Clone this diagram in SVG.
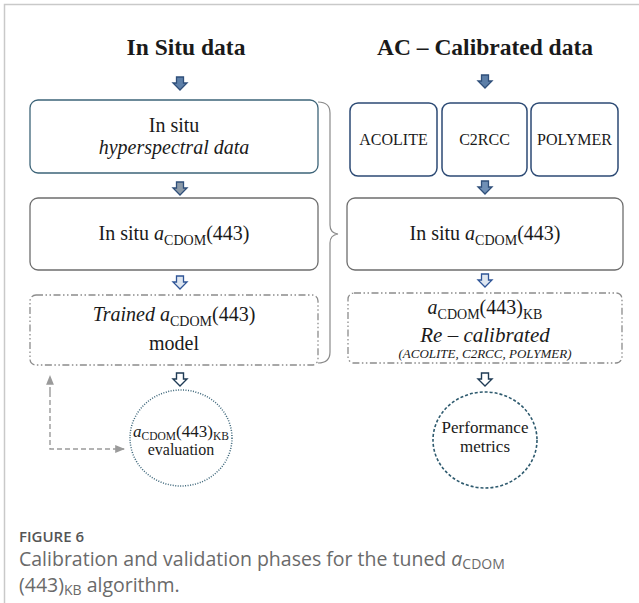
<svg xmlns="http://www.w3.org/2000/svg" width="639" height="603" viewBox="0 0 639 603">
  <style>
    .serif { font-family: "Liberation Serif", "Times New Roman", serif; fill: #1a1a1a; }
    .title { font-size: 23.5px; font-weight: bold; text-anchor: middle; }
    .lbl { font-size: 20px; text-anchor: middle; }
    .ac { font-size: 16px; text-anchor: middle; }
    .it { font-style: italic; }
    .box { fill: #ffffff; stroke-width: 1.3; }
    .solid-teal { stroke: #3d6478; }
    .solid-gray { stroke: #6e6e6e; }
    .solid-blue { stroke: #2c4a74; stroke-width: 1.5; }
    .dashdot { fill: none; stroke: #8c8c8c; stroke-width: 1.3; stroke-dasharray: 7 2.5 1.5 2.5 1.5 2.5; }
    .caption { font-family: "Open Sans", "Liberation Sans", sans-serif; fill: #6a6a6a; font-weight: 400; }
    .fig-no { font-family: "Open Sans", "Liberation Sans", sans-serif; fill: #555555; font-weight: 600; font-size: 15px; }
    .frame { stroke: #c9c9c9; stroke-width: 1.5; fill: none; }
  </style>
  <defs>
    <path id="blockArrow" d="M-3.5,0 H3.5 V6 H7 L0,13 L-7,6 H-3.5 Z"/>
    <marker id="grayHead" viewBox="0 0 10 10" refX="9" refY="5" markerWidth="7" markerHeight="7" orient="auto">
      <path d="M0,1 L10,5 L0,9 Z" fill="#9a9a9a"/>
    </marker>
  </defs>

  <rect width="639" height="603" fill="#ffffff"/>
  <path class="frame" d="M4.5,603 V4.5 H639"/>

  <!-- column headings -->
  <text class="serif title" x="186" y="55">In Situ data</text>
  <text class="serif title" x="485" y="55">AC – Calibrated data</text>

  <!-- connectors: block arrows, brace and feedback loop -->
  <g id="connectors">
    <use href="#blockArrow" x="180" y="77" fill="#5d7fa8" stroke="#2f4f7a" stroke-width="1.3"/>
    <use href="#blockArrow" x="485" y="75" fill="#5d7fa8" stroke="#2f4f7a" stroke-width="1.3"/>
    <use href="#blockArrow" x="180" y="182" fill="#8c9aa8" stroke="#2f4f7a" stroke-width="1.3"/>
    <use href="#blockArrow" x="485" y="181" fill="#6f8fb5" stroke="#2f4f7a" stroke-width="1.3"/>
    <use href="#blockArrow" x="180" y="276" fill="#dfe7f1" stroke="#2f5597" stroke-width="1.3"/>
    <use href="#blockArrow" x="485" y="274" fill="#dfe7f1" stroke="#2f5597" stroke-width="1.3"/>
    <use href="#blockArrow" x="180" y="373" fill="#ffffff" stroke="#1f3b55" stroke-width="1.4"/>
    <use href="#blockArrow" x="485" y="373" fill="#ffffff" stroke="#1f3b55" stroke-width="1.4"/>
    <path d="M318,102 Q330,102 330,113 L330,225 Q330,233 338,234 Q330,235 330,243 L330,352 Q330,363 318,363" fill="none" stroke="#8a8a8a" stroke-width="1.2"/>
    <path d="M50,392 V376" fill="none" stroke="#9a9a9a" stroke-width="1.4" stroke-dasharray="5 3" marker-end="url(#grayHead)"/>
    <path d="M50,392 V449 H124" fill="none" stroke="#9a9a9a" stroke-width="1.4" stroke-dasharray="5 3" marker-end="url(#grayHead)"/>
  </g>

  <!-- left column -->
  <g id="insitu-hyperspectral">
    <rect class="box solid-teal" x="30" y="100" width="288" height="73" rx="8"/>
    <text class="serif lbl" x="174" y="132">In situ</text>
    <text class="serif lbl it" x="174" y="154">hyperspectral data</text>
  </g>
  <g id="insitu-acdom-left">
    <rect class="box solid-gray" x="30" y="198" width="288" height="72" rx="8"/>
    <text class="serif lbl" x="174" y="240">In situ <tspan class="it">a</tspan><tspan font-size="14" dy="5">CDOM</tspan><tspan dy="-5">(443)</tspan></text>
  </g>
  <g id="trained-model">
    <rect class="dashdot" x="30" y="295" width="288" height="70" rx="6"/>
    <text class="serif lbl" x="174" y="321"><tspan class="it">Trained a</tspan><tspan font-size="14" dy="5">CDOM</tspan><tspan dy="-5">(443)</tspan></text>
    <text class="serif lbl" x="174" y="350">model</text>
  </g>
  <g id="kb-evaluation">
    <ellipse cx="181" cy="438" rx="51" ry="48" fill="none" stroke="#3a6478" stroke-width="1.5" stroke-dasharray="1 1.5"/>
    <text class="serif" x="181" y="437" font-size="17" text-anchor="middle"><tspan class="it">a</tspan><tspan font-size="11.5" dy="3">CDOM</tspan><tspan dy="-3">(443)</tspan><tspan font-size="11.5" dy="3">KB</tspan></text>
    <text class="serif" x="181" y="455" font-size="16" text-anchor="middle">evaluation</text>
  </g>

  <!-- right column -->
  <g id="acolite">
    <rect class="box solid-blue" x="350" y="103" width="87" height="73" rx="8"/>
    <text class="serif ac" x="393.5" y="145">ACOLITE</text>
  </g>
  <g id="c2rcc">
    <rect class="box solid-blue" x="442" y="103" width="85" height="73" rx="8"/>
    <text class="serif ac" x="484.5" y="145">C2RCC</text>
  </g>
  <g id="polymer">
    <rect class="box solid-blue" x="531" y="103" width="87" height="73" rx="8"/>
    <text class="serif ac" x="574.5" y="145">POLYMER</text>
  </g>
  <g id="insitu-acdom-right">
    <rect class="box solid-gray" x="347" y="198" width="276" height="72" rx="8"/>
    <text class="serif lbl" x="485" y="240">In situ <tspan class="it">a</tspan><tspan font-size="14" dy="5">CDOM</tspan><tspan dy="-5">(443)</tspan></text>
  </g>
  <g id="recalibrated">
    <rect class="dashdot" x="348" y="293" width="274" height="70" rx="6"/>
    <text class="serif lbl" x="485" y="314"><tspan class="it">a</tspan><tspan font-size="14" dy="5">CDOM</tspan><tspan dy="-5">(443)</tspan><tspan font-size="14" dy="5">KB</tspan></text>
    <text class="serif it" x="485" y="342" font-size="21" text-anchor="middle">Re – calibrated</text>
    <text class="serif it" x="485" y="358" font-size="13" text-anchor="middle">(ACOLITE, C2RCC, POLYMER)</text>
  </g>
  <g id="performance-metrics">
    <ellipse cx="485" cy="440" rx="52" ry="48" fill="none" stroke="#2e5a6e" stroke-width="1.6" stroke-dasharray="3 2"/>
    <text class="serif" x="485" y="433" font-size="17" text-anchor="middle">Performance</text>
    <text class="serif" x="485" y="452" font-size="17" text-anchor="middle">metrics</text>
  </g>

  <!-- caption -->
  <text class="fig-no" x="19" y="542">FIGURE 6</text>
  <text class="caption" x="19" y="566" font-size="19.5">Calibration and validation phases for the tuned <tspan font-style="italic">a</tspan><tspan font-size="14" dy="3">CDOM</tspan></text>
  <text class="caption" x="19" y="592" font-size="19.5">(443)<tspan font-size="14" dy="3">KB</tspan><tspan dy="-3"> algorithm.</tspan></text>
</svg>
